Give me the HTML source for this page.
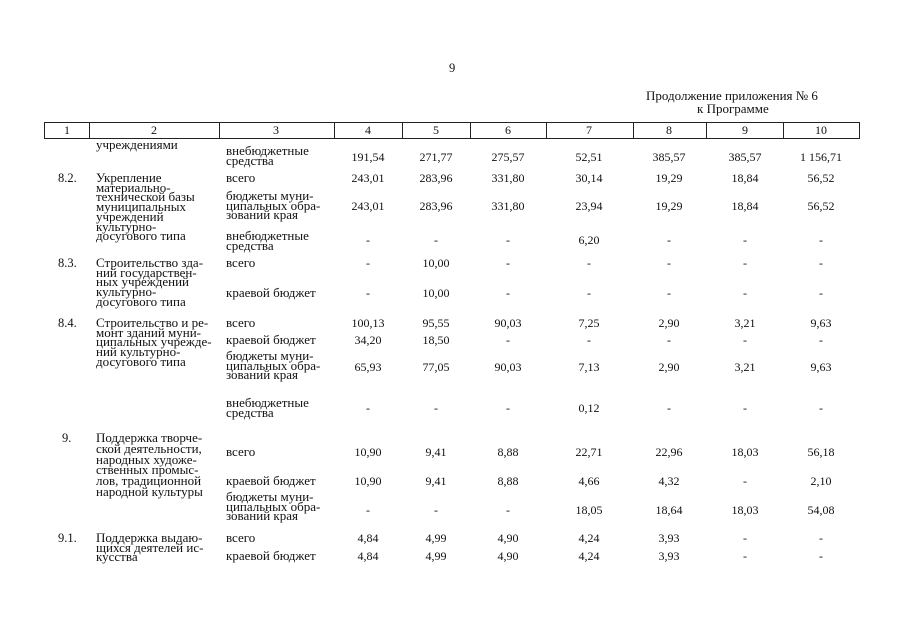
<!DOCTYPE html>
<html><head><meta charset="utf-8"><style>
html,body{margin:0;padding:0;background:#fff}
body{width:905px;height:640px;position:relative;overflow:hidden;font-family:"Liberation Serif",serif;color:#111;font-size:12px}
.t{position:absolute;white-space:nowrap;line-height:12px;font-size:12.5px}
.m{position:absolute;white-space:nowrap;line-height:9.7px;font-size:13px}
.n{position:absolute;width:80px;text-align:center;line-height:12px;font-size:12px}
.v{position:absolute;top:122px;height:17px;width:1px;background:#222}
.h{position:absolute;left:44px;width:816px;height:1px;background:#222}
</style></head><body>
<div class="t" style="left:449px;top:62px">9</div>
<div class="t" style="left:646px;top:90px;font-size:13px">Продолжение приложения № 6</div>
<div class="t" style="left:697px;top:103px;font-size:13px">к Программе</div>

<div class="h" style="top:122px"></div><div class="h" style="top:138px"></div>
<div class="v" style="left:44px"></div><div class="v" style="left:89px"></div><div class="v" style="left:219px"></div><div class="v" style="left:334px"></div><div class="v" style="left:402px"></div><div class="v" style="left:470px"></div><div class="v" style="left:546px"></div><div class="v" style="left:633px"></div><div class="v" style="left:706px"></div><div class="v" style="left:783px"></div><div class="v" style="left:859px"></div>
<div class="n" style="left:27px;top:124px">1</div><div class="n" style="left:114px;top:124px">2</div><div class="n" style="left:236px;top:124px">3</div><div class="n" style="left:328px;top:124px">4</div><div class="n" style="left:396px;top:124px">5</div><div class="n" style="left:468px;top:124px">6</div><div class="n" style="left:549px;top:124px">7</div><div class="n" style="left:629px;top:124px">8</div><div class="n" style="left:705px;top:124px">9</div><div class="n" style="left:781px;top:124px">10</div>

<div class="m" style="left:96px;top:140px">учреждениями</div>
<div class="m" style="left:226px;top:146px">внебюджетные<br>средства</div>
<div class="n" style="left:328px;top:151px">191,54</div><div class="n" style="left:396px;top:151px">271,77</div><div class="n" style="left:468px;top:151px">275,57</div><div class="n" style="left:549px;top:151px">52,51</div><div class="n" style="left:629px;top:151px">385,57</div><div class="n" style="left:705px;top:151px">385,57</div><div class="n" style="left:781px;top:151px">1 156,71</div>

<div class="t" style="left:58px;top:172px">8.2.</div>
<div class="m" style="left:96px;top:173px">Укрепление<br>материально-<br>технической базы<br>муниципальных<br>учреждений<br>культурно-<br>досугового типа</div>
<div class="m" style="left:226px;top:173px">всего</div>
<div class="n" style="left:328px;top:172px">243,01</div><div class="n" style="left:396px;top:172px">283,96</div><div class="n" style="left:468px;top:172px">331,80</div><div class="n" style="left:549px;top:172px">30,14</div><div class="n" style="left:629px;top:172px">19,29</div><div class="n" style="left:705px;top:172px">18,84</div><div class="n" style="left:781px;top:172px">56,52</div>
<div class="m" style="left:226px;top:191px">бюджеты муни-<br>ципальных обра-<br>зований края</div>
<div class="n" style="left:328px;top:200px">243,01</div><div class="n" style="left:396px;top:200px">283,96</div><div class="n" style="left:468px;top:200px">331,80</div><div class="n" style="left:549px;top:200px">23,94</div><div class="n" style="left:629px;top:200px">19,29</div><div class="n" style="left:705px;top:200px">18,84</div><div class="n" style="left:781px;top:200px">56,52</div>
<div class="m" style="left:226px;top:231px">внебюджетные<br>средства</div>
<div class="n" style="left:328px;top:234px">-</div><div class="n" style="left:396px;top:234px">-</div><div class="n" style="left:468px;top:234px">-</div><div class="n" style="left:549px;top:234px">6,20</div><div class="n" style="left:629px;top:234px">-</div><div class="n" style="left:705px;top:234px">-</div><div class="n" style="left:781px;top:234px">-</div>

<div class="t" style="left:58px;top:257px">8.3.</div>
<div class="m" style="left:96px;top:258px">Строительство зда-<br>ний государствен-<br>ных учреждений<br>культурно-<br>досугового типа</div>
<div class="m" style="left:226px;top:258px">всего</div>
<div class="n" style="left:328px;top:257px">-</div><div class="n" style="left:396px;top:257px">10,00</div><div class="n" style="left:468px;top:257px">-</div><div class="n" style="left:549px;top:257px">-</div><div class="n" style="left:629px;top:257px">-</div><div class="n" style="left:705px;top:257px">-</div><div class="n" style="left:781px;top:257px">-</div>
<div class="m" style="left:226px;top:288px">краевой бюджет</div>
<div class="n" style="left:328px;top:287px">-</div><div class="n" style="left:396px;top:287px">10,00</div><div class="n" style="left:468px;top:287px">-</div><div class="n" style="left:549px;top:287px">-</div><div class="n" style="left:629px;top:287px">-</div><div class="n" style="left:705px;top:287px">-</div><div class="n" style="left:781px;top:287px">-</div>

<div class="t" style="left:58px;top:317px">8.4.</div>
<div class="m" style="left:96px;top:318px">Строительство и ре-<br>монт зданий муни-<br>ципальных учрежде-<br>ний культурно-<br>досугового типа</div>
<div class="m" style="left:226px;top:318px">всего</div>
<div class="n" style="left:328px;top:317px">100,13</div><div class="n" style="left:396px;top:317px">95,55</div><div class="n" style="left:468px;top:317px">90,03</div><div class="n" style="left:549px;top:317px">7,25</div><div class="n" style="left:629px;top:317px">2,90</div><div class="n" style="left:705px;top:317px">3,21</div><div class="n" style="left:781px;top:317px">9,63</div>
<div class="m" style="left:226px;top:335px">краевой бюджет</div>
<div class="n" style="left:328px;top:334px">34,20</div><div class="n" style="left:396px;top:334px">18,50</div><div class="n" style="left:468px;top:334px">-</div><div class="n" style="left:549px;top:334px">-</div><div class="n" style="left:629px;top:334px">-</div><div class="n" style="left:705px;top:334px">-</div><div class="n" style="left:781px;top:334px">-</div>
<div class="m" style="left:226px;top:351px">бюджеты муни-<br>ципальных обра-<br>зований края</div>
<div class="n" style="left:328px;top:361px">65,93</div><div class="n" style="left:396px;top:361px">77,05</div><div class="n" style="left:468px;top:361px">90,03</div><div class="n" style="left:549px;top:361px">7,13</div><div class="n" style="left:629px;top:361px">2,90</div><div class="n" style="left:705px;top:361px">3,21</div><div class="n" style="left:781px;top:361px">9,63</div>
<div class="m" style="left:226px;top:398px">внебюджетные<br>средства</div>
<div class="n" style="left:328px;top:402px">-</div><div class="n" style="left:396px;top:402px">-</div><div class="n" style="left:468px;top:402px">-</div><div class="n" style="left:549px;top:402px">0,12</div><div class="n" style="left:629px;top:402px">-</div><div class="n" style="left:705px;top:402px">-</div><div class="n" style="left:781px;top:402px">-</div>

<div class="t" style="left:62px;top:432px">9.</div>
<div class="m" style="left:96px;top:433px;line-height:10.8px">Поддержка творче-<br>ской деятельности,<br>народных художе-<br>ственных промыс-<br>лов, традиционной<br>народной культуры</div>
<div class="m" style="left:226px;top:447px">всего</div>
<div class="n" style="left:328px;top:446px">10,90</div><div class="n" style="left:396px;top:446px">9,41</div><div class="n" style="left:468px;top:446px">8,88</div><div class="n" style="left:549px;top:446px">22,71</div><div class="n" style="left:629px;top:446px">22,96</div><div class="n" style="left:705px;top:446px">18,03</div><div class="n" style="left:781px;top:446px">56,18</div>
<div class="m" style="left:226px;top:476px">краевой бюджет</div>
<div class="n" style="left:328px;top:475px">10,90</div><div class="n" style="left:396px;top:475px">9,41</div><div class="n" style="left:468px;top:475px">8,88</div><div class="n" style="left:549px;top:475px">4,66</div><div class="n" style="left:629px;top:475px">4,32</div><div class="n" style="left:705px;top:475px">-</div><div class="n" style="left:781px;top:475px">2,10</div>
<div class="m" style="left:226px;top:492px">бюджеты муни-<br>ципальных обра-<br>зований края</div>
<div class="n" style="left:328px;top:504px">-</div><div class="n" style="left:396px;top:504px">-</div><div class="n" style="left:468px;top:504px">-</div><div class="n" style="left:549px;top:504px">18,05</div><div class="n" style="left:629px;top:504px">18,64</div><div class="n" style="left:705px;top:504px">18,03</div><div class="n" style="left:781px;top:504px">54,08</div>

<div class="t" style="left:58px;top:532px">9.1.</div>
<div class="m" style="left:96px;top:533px">Поддержка выдаю-<br>щихся деятелей ис-<br>кусства</div>
<div class="m" style="left:226px;top:533px">всего</div>
<div class="n" style="left:328px;top:532px">4,84</div><div class="n" style="left:396px;top:532px">4,99</div><div class="n" style="left:468px;top:532px">4,90</div><div class="n" style="left:549px;top:532px">4,24</div><div class="n" style="left:629px;top:532px">3,93</div><div class="n" style="left:705px;top:532px">-</div><div class="n" style="left:781px;top:532px">-</div>
<div class="m" style="left:226px;top:551px">краевой бюджет</div>
<div class="n" style="left:328px;top:550px">4,84</div><div class="n" style="left:396px;top:550px">4,99</div><div class="n" style="left:468px;top:550px">4,90</div><div class="n" style="left:549px;top:550px">4,24</div><div class="n" style="left:629px;top:550px">3,93</div><div class="n" style="left:705px;top:550px">-</div><div class="n" style="left:781px;top:550px">-</div>
</body></html>
